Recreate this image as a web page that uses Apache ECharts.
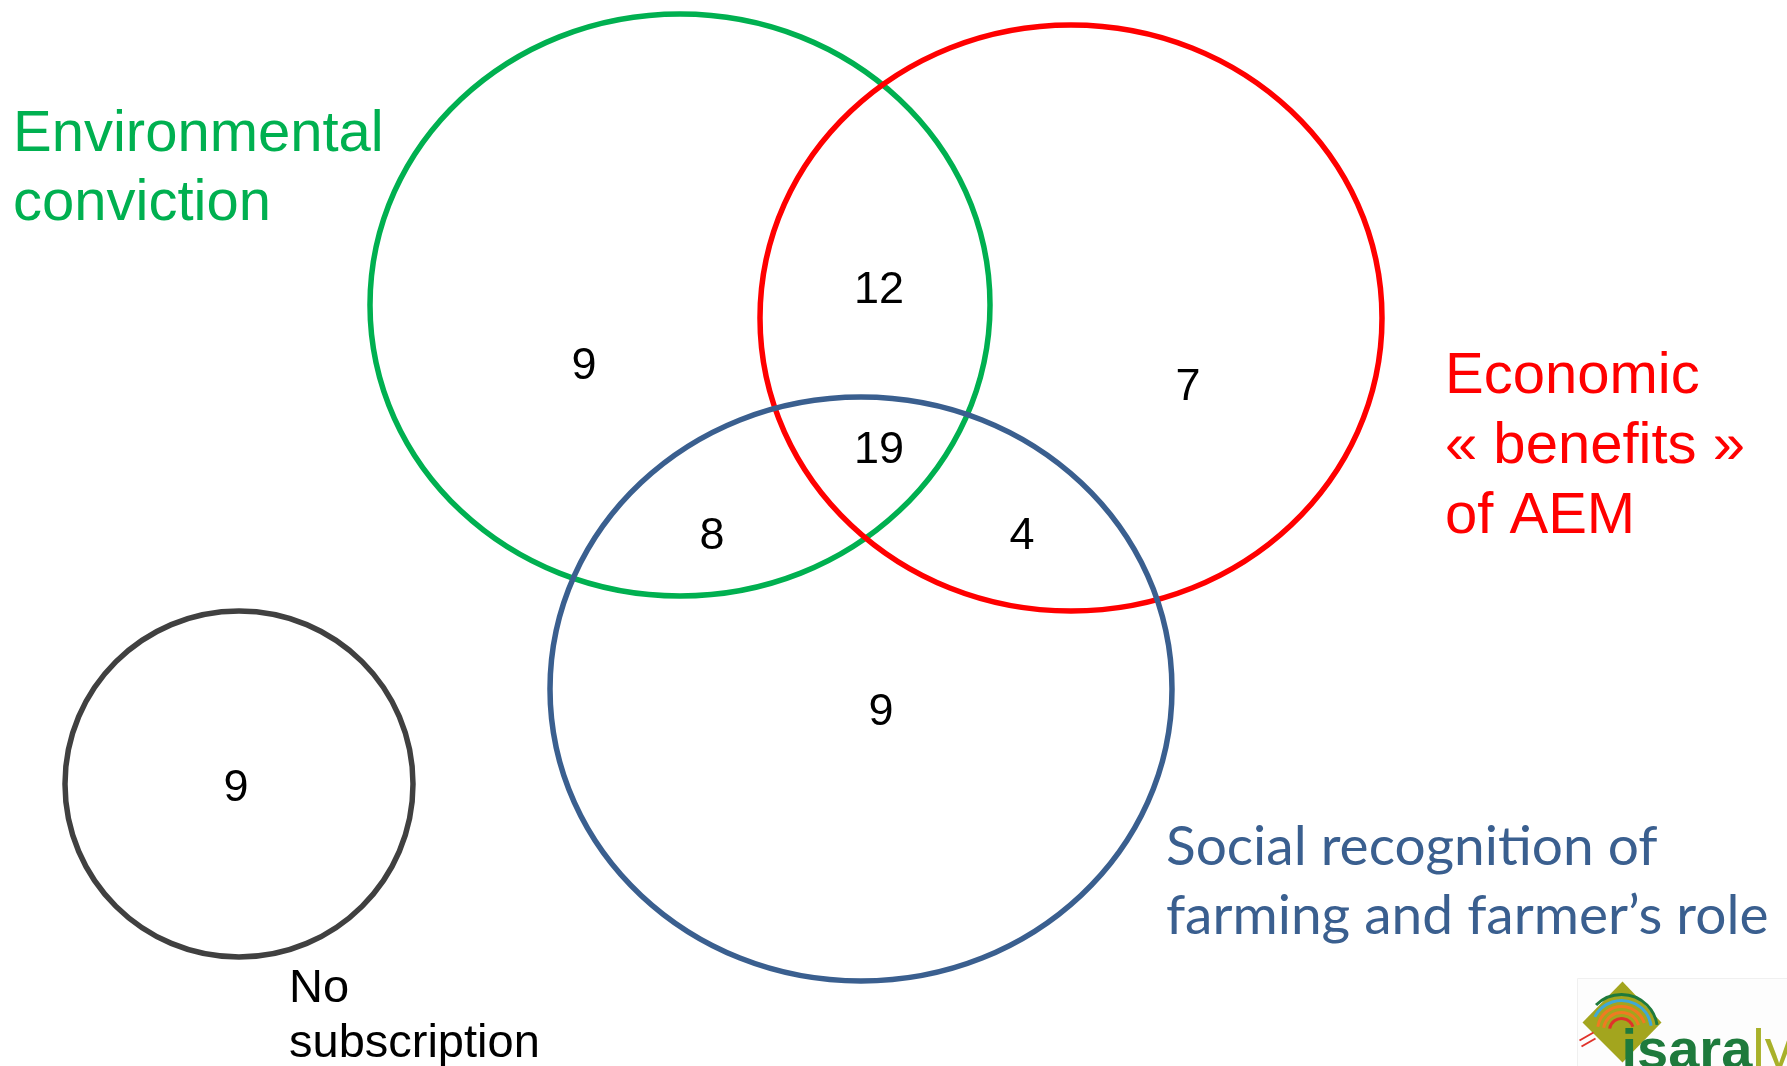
<!DOCTYPE html>
<html>
<head>
<meta charset="utf-8">
<title>Venn</title>
<script src="https://cdn.jsdelivr.net/npm/echarts@6/dist/echarts.min.js"></script>
<style>
  html, body { margin: 0; padding: 0; background: #fff; }
  #chart { width: 1787px; height: 1066px; }
</style>
</head>
<body>
<div id="chart"></div>
<script>
  // sets (data units of the diagram plane, y grows downward)
  var setNames = ['Environmental\nconviction', 'Economic\n« benefits »\nof AEM', 'Social recognition of\nfarming and farmer’s role', 'No\nsubscription'];
  var setCx = [680, 1071, 861, 239];
  var setCy = [305, 318, 689, 784];
  var setRx = [310, 311, 311, 174];
  var setRy = [291, 293, 292, 173];
  var setLabelX = [13, 1445, 1166, 289];
  var setLabelY = [169, 447, 882, 1017];

  // counts per region
  var regionNames = ['Environmental only', 'Environmental + Economic', 'Economic only', 'All three', 'Environmental + Social', 'Economic + Social', 'Social only', 'No subscription'];
  var regionCounts = [9, 12, 7, 19, 8, 4, 9, 9];
  var regionX = [584, 879, 1188, 879, 712, 1022, 881, 236];
  var regionY = [363, 287, 384, 447, 533, 533, 709, 785];

  var colors = ['#00b050', '#ff0000', '#3a5f8f', '#404040'];
  var labelColors = ['#00b050', '#ff0000', '#3a5f8f', '#000000'];
  var labelFonts = ['58px "Liberation Sans", Arial, sans-serif', '58px "Liberation Sans", Arial, sans-serif', '55px Lato, "Open Sans", sans-serif', '47px "Liberation Sans", Arial, sans-serif'];
  var labelLineHeight = [69, 70, 69, 55];

  var chart = echarts.init(document.getElementById('chart'))

  var circleData = setCx.map(function (x, i) {
    return [x, setCy[i], setRx[i] * 2, setRy[i] * 2, i]
  })
  var labelData = setLabelX.map(function (x, i) {
    return [x, setLabelY[i], i]
  })
  var countData = regionCounts.map(function (c, i) {
    return { name: regionNames[i], value: [regionX[i], regionY[i], c] }
  })

  var option = {
    backgroundColor: '#ffffff',
    animation: false,
    grid: { left: 0, right: 0, top: 0, bottom: 0 },
    xAxis: { type: 'value', min: 0, max: 1787, show: false },
    yAxis: { type: 'value', min: 0, max: 1066, inverse: true, show: false },
    series: [
      {
        type: 'custom',
        name: 'sets',
        data: circleData,
        encode: { x: 0, y: 1 },
        renderItem: function (params, api) {
          var c = api.coord([api.value(0), api.value(1)])
          var s = api.size([api.value(2), api.value(3)], [api.value(0), api.value(1)])
          var i = api.value(4)
          return {
            type: 'ellipse',
            shape: { cx: c[0], cy: c[1], rx: s[0] / 2, ry: s[1] / 2 },
            style: { fill: 'none', stroke: colors[i], lineWidth: 5.5 }
          }
        }
      },
      {
        type: 'custom',
        name: 'set labels',
        data: labelData,
        encode: { x: 0, y: 1 },
        renderItem: function (params, api) {
          var c = api.coord([api.value(0), api.value(1)])
          var i = api.value(2)
          return {
            type: 'text',
            x: c[0],
            y: c[1],
            style: {
              text: setNames[i],
              fill: labelColors[i],
              font: labelFonts[i],
              lineHeight: labelLineHeight[i],
              align: 'left',
              verticalAlign: 'middle'
            }
          }
        }
      },
      {
        type: 'custom',
        name: 'counts',
        data: countData,
        encode: { x: 0, y: 1 },
        renderItem: function (params, api) {
          var c = api.coord([api.value(0), api.value(1)])
          return {
            type: 'text',
            x: c[0],
            y: c[1] + 4, // digits sit a bit above the em middle
            style: {
              text: String(api.value(2)),
              fill: '#000',
              font: '45px "Liberation Sans", Arial, sans-serif',
              align: 'center',
              verticalAlign: 'middle'
            }
          }
        }
      }
    ],
    // logo in the corner, just decoration
    graphic: [
      {
        type: 'group',
        left: 1577,
        top: 978,
        children: [
          { type: 'rect', shape: { x: 0, y: 0, width: 220, height: 100 }, style: { fill: '#fdfdfd', stroke: '#f0f0f0', lineWidth: 1 } },
          { type: 'polygon', shape: { points: [[5, 44], [45, 3], [84, 44], [45, 84]] }, style: { fill: '#a3a51e' } },
          { type: 'arc', shape: { cx: 44, cy: 52, r: 12, startAngle: Math.PI * 1.05, endAngle: Math.PI * 1.9 }, style: { stroke: '#e0322a', lineWidth: 3, fill: 'none' } },
          { type: 'arc', shape: { cx: 44, cy: 52, r: 18, startAngle: Math.PI * 1.05, endAngle: Math.PI * 1.9 }, style: { stroke: '#f07a22', lineWidth: 3, fill: 'none' } },
          { type: 'arc', shape: { cx: 44, cy: 52, r: 24, startAngle: Math.PI * 1.05, endAngle: Math.PI * 1.9 }, style: { stroke: '#f07a22', lineWidth: 3, fill: 'none' } },
          { type: 'arc', shape: { cx: 44, cy: 52, r: 30, startAngle: Math.PI * 1.15, endAngle: Math.PI * 1.95 }, style: { stroke: '#3fa9d6', lineWidth: 3, fill: 'none' } },
          { type: 'arc', shape: { cx: 44, cy: 52, r: 36, startAngle: Math.PI * 1.25, endAngle: Math.PI * 1.95 }, style: { stroke: '#1e7a3c', lineWidth: 3, fill: 'none' } },
          { type: 'line', shape: { x1: 2, y1: 62, x2: 16, y2: 54 }, style: { stroke: '#e0322a', lineWidth: 2 } },
          { type: 'line', shape: { x1: 4, y1: 68, x2: 18, y2: 60 }, style: { stroke: '#e0322a', lineWidth: 2 } },
          {
            type: 'text', x: 44, y: 102,
            style: {
              text: '{a|isara}{b|lyon}',
              align: 'left',
              verticalAlign: 'bottom',
              rich: {
                a: { fill: '#1e7a3c', fontWeight: 'bold', fontSize: 56, fontFamily: '"Liberation Sans Narrow", "Liberation Sans", sans-serif' },
                b: { fill: '#a8b12a', fontSize: 56, fontFamily: '"Liberation Sans Narrow", "Liberation Sans", sans-serif' }
              }
            }
          }
        ]
      }
    ]
  }

  chart.setOption(option)
</script>
</body>
</html>
